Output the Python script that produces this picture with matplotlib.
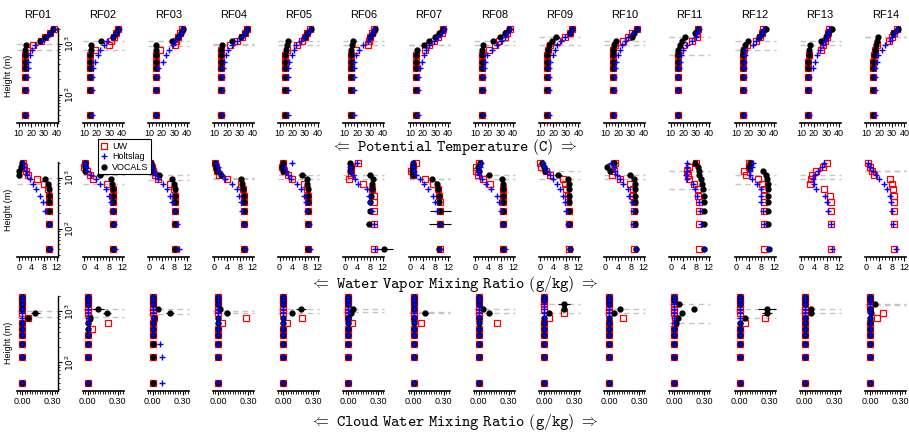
import matplotlib.pyplot as plt
import matplotlib.ticker as mticker
from matplotlib.lines import Line2D
import numpy as np

plt.rcParams['font.family'] = ['Liberation Sans', 'DejaVu Sans']

flights = ['RF01', 'RF02', 'RF03', 'RF04', 'RF05', 'RF06', 'RF07',
           'RF08', 'RF09', 'RF10', 'RF11', 'RF12', 'RF13', 'RF14']

# model / obs levels (m)
heights = [40, 125, 225, 340, 450, 600, 750, 930, 1130, 1370, 1640, 1950]

# inversion top / base per flight (dashed lines)
inv_top = [1000, 1130, 1130, 1000, 1130, 1130, 960, 1130, 1370, 1130, 1370, 1130, 1130, 1370]
inv_base = [760, 760, 900, 930, 930, 960, 930, 930, 930, 930, 600, 750, 930, 1350]

# ---- potential temperature (C)
th_uw = [
    [15.0, 15.0, 15.0, 15.0, 15.0, 15.0, 16.5, 21.5, 27.5, 31.0, 35.0, 37.5],
    [15.0, 15.0, 15.0, 15.0, 15.0, 15.0, 18.5, 29.5, 31.5, 33.5, 35.0, 36.5],
    [15.0, 15.0, 15.0, 15.0, 15.0, 15.0, 18.5, 30.0, 31.5, 33.0, 34.5, 36.0],
    [15.0, 15.0, 15.0, 15.0, 15.0, 15.0, 15.5, 22.0, 28.0, 31.5, 34.0, 36.0],
    [14.5, 14.5, 14.5, 14.5, 14.5, 14.5, 15.5, 23.5, 27.5, 30.0, 32.0, 34.0],
    [14.8, 14.8, 14.8, 14.8, 14.8, 14.8, 18.8, 28.0, 29.0, 30.0, 31.2, 33.0],
    [14.7, 14.7, 14.7, 14.7, 14.7, 14.7, 21.8, 25.2, 28.9, 32.3, 35.0, 36.3],
    [15.5, 15.5, 15.5, 15.5, 15.5, 15.5, 20.9, 25.6, 29.0, 33.5, 35.5, 37.5],
    [15.5, 15.5, 15.5, 15.5, 15.5, 15.5, 16.0, 17.5, 23.3, 29.4, 33.3, 34.6],
    [15.6, 15.6, 15.6, 15.6, 15.6, 15.6, 16.0, 17.5, 23.5, 28.0, 30.6, 34.5],
    [15.4, 15.4, 15.4, 15.4, 15.4, 16.0, 17.0, 19.3, 26.4, 30.4, 31.0, 31.7],
    [15.2, 15.2, 15.2, 15.2, 15.2, 15.5, 16.0, 19.0, 25.8, 29.0, 30.5, 31.6],
    [15.1, 15.1, 15.1, 15.1, 15.5, 16.0, 25.4, 27.5, 28.8, 30.1, 31.4, 32.2],
    [15.5, 15.5, 15.5, 15.5, 15.5, 16.0, 16.5, 18.0, 28.0, 30.0, 31.8, 34.4],
]
th_hs = [
    [16.0, 16.0, 16.5, 17.0, 17.5, 19.0, 20.5, 23.0, 28.0, 32.0, 35.0, 38.0],
    [16.0, 16.0, 16.0, 17.0, 18.5, 21.0, 23.0, 26.0, 28.5, 33.0, 35.0, 37.5],
    [15.5, 15.5, 16.0, 17.0, 21.0, 23.0, 26.0, 28.5, 30.0, 33.0, 35.0, 36.5],
    [16.0, 16.0, 16.0, 16.5, 17.5, 19.0, 21.0, 24.0, 28.0, 31.5, 34.0, 36.0],
    [16.4, 16.4, 16.4, 16.4, 17.7, 19.8, 21.0, 23.0, 27.0, 29.6, 32.7, 34.0],
    [17.0, 17.0, 17.0, 17.0, 17.5, 18.5, 21.4, 24.6, 28.0, 30.0, 31.5, 33.0],
    [16.0, 16.0, 16.5, 17.5, 19.2, 21.0, 23.0, 25.2, 29.0, 32.5, 35.0, 36.5],
    [16.5, 16.5, 16.5, 17.0, 17.7, 19.5, 23.0, 27.0, 30.0, 33.5, 35.5, 37.5],
    [16.5, 16.5, 16.5, 17.0, 17.6, 20.2, 21.5, 22.8, 26.0, 29.4, 33.0, 34.6],
    [16.5, 16.5, 16.5, 17.5, 18.5, 20.0, 21.5, 22.6, 25.5, 28.0, 31.5, 34.5],
    [16.0, 16.0, 16.0, 16.5, 17.0, 18.0, 19.8, 23.0, 26.5, 30.0, 31.0, 32.0],
    [16.0, 16.0, 16.0, 16.0, 16.5, 17.0, 17.1, 23.7, 26.0, 29.0, 30.5, 31.6],
    [16.0, 16.0, 16.5, 19.5, 20.9, 22.7, 25.0, 27.0, 28.8, 30.1, 31.4, 32.2],
    [16.5, 16.5, 16.5, 17.0, 18.0, 19.4, 22.0, 24.6, 28.6, 30.5, 32.5, 34.4],
]
th_vc = [
    [15.0, 15.0, 15.0, 15.0, 15.0, 15.0, 15.2, 16.0, 27.0, 31.0, 34.5, 37.0],
    [15.0, 15.0, 15.0, 15.0, 15.0, 15.0, 15.2, 15.5, 23.5, 33.0, 35.0, 36.5],
    [15.0, 15.0, 15.0, 15.0, 15.0, 15.0, 15.2, 15.5, 28.0, 32.5, 35.0, 36.5],
    [15.0, 15.0, 15.0, 15.0, 15.0, 15.0, 15.2, 16.0, 24.0, 31.0, 34.0, 36.0],
    [14.5, 14.5, 14.5, 14.5, 14.5, 14.5, 15.0, 15.5, 17.0, 30.0, 32.0, 34.5],
    [14.8, 14.8, 14.8, 14.8, 14.8, 15.0, 15.2, 15.5, 16.7, 30.0, 32.0, 34.0],
    [14.7, 14.7, 14.7, 14.7, 14.7, 15.0, 15.2, 21.0, 25.3, 29.5, 33.0, 36.0],
    [15.5, 15.5, 15.5, 15.5, 15.5, 15.5, 15.6, 16.0, 24.3, 29.6, 33.5, 36.5],
    [15.5, 15.5, 15.5, 15.5, 15.5, 15.5, 15.8, 16.5, 19.5, 22.3, 33.0, 35.0],
    [15.6, 15.6, 15.6, 15.6, 15.6, 15.6, 15.8, 16.5, 18.2, 30.6, 32.5, 35.0],
    [15.4, 15.4, 15.4, 15.4, 15.4, 15.6, 16.0, 17.5, 19.0, 21.2, 29.5, 31.7],
    [15.2, 15.2, 15.2, 15.2, 15.2, 15.3, 15.5, 17.1, 19.7, 28.0, 30.2, 34.0],
    [15.1, 15.1, 15.1, 15.1, 15.5, 16.0, 16.5, 17.0, 25.4, 29.5, 31.4, 34.5],
    [15.5, 15.5, 15.5, 15.5, 15.5, 16.0, 17.0, 17.5, 18.1, 19.4, 31.0, 34.8],
]

# ---- water vapor mixing ratio (g/kg)
qv_uw = [
    [9.6, 9.4, 9.4, 9.4, 9.4, 9.2, 8.1, 5.8, 3.0, 2.2, 1.6, 1.2],
    [9.3, 9.1, 9.1, 9.1, 9.1, 9.1, 7.4, 2.7, 1.9, 1.1, 0.0, 0.3],
    [8.3, 8.3, 8.3, 8.2, 8.2, 7.8, 6.7, 2.8, 1.9, 1.2, 0.8, 0.4],
    [9.2, 9.2, 9.2, 9.2, 9.2, 9.0, 8.5, 4.0, 1.5, 0.8, 0.5, 0.3],
    [9.0, 9.0, 9.0, 9.0, 9.0, 8.8, 7.7, 4.0, 2.6, 1.3, 0.8, 1.1],
    [9.1, 9.1, 9.1, 9.1, 9.1, 8.6, 5.9, 1.4, 2.1, 2.0, 1.9, 4.3],
    [9.4, 9.4, 9.4, 9.4, 9.2, 8.9, 7.3, 4.6, 0.9, 0.3, 0.9, 1.9],
    [8.8, 8.8, 8.8, 8.8, 8.8, 8.8, 4.7, 2.5, 1.0, 0.3, 0.2, 1.3],
    [9.0, 9.0, 9.0, 8.7, 8.7, 8.2, 7.7, 7.1, 3.1, 1.8, 0.2, 0.0],
    [9.0, 9.0, 9.0, 8.9, 8.7, 8.5, 7.7, 4.6, 2.0, 2.6, 1.5, 3.1],
    [8.8, 8.8, 8.8, 8.8, 8.6, 8.5, 7.4, 5.9, 5.4, 5.1, 5.7, 8.0],
    [9.0, 9.0, 9.0, 9.0, 9.0, 8.8, 8.3, 6.8, 3.2, 2.5, 4.0, 4.0],
    [9.3, 9.3, 9.3, 9.3, 9.0, 7.3, 2.8, 3.0, 3.3, 4.8, 7.0, 8.0],
    [8.8, 8.8, 8.8, 8.8, 8.6, 8.5, 8.2, 7.5, 2.5, 1.8, 1.0, 0.5],
]
qv_hs = [
    [9.9, 9.6, 8.3, 7.8, 6.7, 5.4, 4.6, 3.5, 2.7, 2.3, 1.6, 1.2],
    [9.8, 9.4, 9.0, 8.5, 7.8, 6.8, 5.1, 3.8, 2.2, 1.1, 0.6, 0.3],
    [9.4, 8.8, 8.0, 7.2, 6.7, 5.5, 4.2, 2.9, 1.9, 1.4, 1.0, 0.6],
    [9.6, 9.3, 8.8, 8.3, 7.8, 7.0, 5.5, 3.5, 2.3, 1.5, 1.0, 0.6],
    [9.6, 9.3, 8.6, 8.2, 7.6, 6.9, 5.4, 3.6, 2.7, 2.1, 1.5, 4.0],
    [9.6, 9.1, 8.5, 8.0, 7.5, 6.9, 4.3, 3.2, 2.5, 1.8, 1.6, 4.0],
    [9.6, 9.4, 8.4, 7.8, 7.3, 5.7, 4.3, 3.0, 1.9, 1.4, 1.1, 0.9],
    [9.4, 8.9, 8.1, 7.6, 6.9, 5.0, 3.5, 2.0, 1.3, 1.0, 1.5, 1.7],
    [9.2, 8.7, 8.2, 7.7, 7.1, 6.1, 5.1, 4.1, 2.9, 2.0, 1.2, 0.8],
    [9.5, 8.7, 8.5, 8.2, 7.5, 7.1, 5.6, 4.6, 3.6, 3.1, 2.6, 1.7],
    [10.5, 9.6, 9.2, 8.8, 8.2, 7.5, 6.9, 5.1, 4.9, 5.0, 5.1, 5.1],
    [10.0, 9.0, 8.5, 8.0, 7.8, 7.8, 6.5, 5.0, 4.5, 4.3, 5.0, 5.5],
    [9.8, 9.3, 8.6, 8.3, 7.6, 4.8, 4.0, 3.6, 4.3, 5.3, 6.6, 7.3],
    [9.2, 8.5, 8.0, 7.8, 7.5, 6.5, 5.5, 4.0, 3.0, 2.0, 1.0, 0.5],
]
qv_vc = [
    [9.6, 9.6, 9.6, 9.6, 9.6, 9.6, 9.3, 8.3, 0.2, 0.1, 0.8, 1.1],
    [9.3, 9.2, 9.2, 9.2, 9.2, 9.2, 8.8, 8.6, 5.1, 0.3, 0.3, 0.3],
    [8.3, 8.3, 8.3, 8.3, 8.3, 8.3, 7.8, 7.2, 3.0, 1.0, 0.8, 0.5],
    [9.2, 9.2, 9.2, 9.2, 9.2, 9.1, 8.8, 8.5, 2.0, 0.8, 0.5, 0.3],
    [9.0, 9.0, 9.0, 9.0, 9.0, 9.0, 8.8, 8.6, 7.2, 1.0, 0.8, 1.2],
    [12.3, 7.8, 8.0, 8.0, 8.4, 8.6, 8.6, 8.9, 8.0, 1.6, 1.8, 1.6],
    [9.2, 9.4, 9.6, 9.2, 9.2, 8.8, 8.6, 7.1, 1.0, 0.5, 0.8, 1.1],
    [8.9, 8.9, 8.8, 8.8, 8.8, 8.8, 8.7, 8.6, 4.3, 1.3, 1.0, 1.5],
    [9.2, 9.1, 9.1, 9.1, 9.0, 9.0, 8.9, 8.6, 5.6, 1.5, 1.0, 0.5],
    [9.7, 9.3, 9.3, 9.3, 9.2, 9.2, 9.2, 9.0, 7.7, 1.3, 0.5, 2.6],
    [10.5, 10.5, 10.5, 10.5, 10.5, 10.2, 10.0, 9.5, 9.0, 8.8, 8.5, 7.8],
    [10.3, 10.0, 10.0, 10.0, 10.0, 10.0, 10.0, 9.8, 9.6, 8.5, 4.0, 4.5],
    [None] * 12,
    [None] * 12,
]

# ---- cloud water mixing ratio (g/kg)
ql_uw = [
    [0, 0, 0, 0, 0, 0, 0.06, 0, 0, 0, 0, 0],
    [0, 0, 0, 0, 0.04, 0.20, 0.01, 0, 0, 0, 0, 0],
    [0, 0, 0, 0, 0, 0, 0.01, 0, 0, 0, 0, 0],
    [0, 0, 0, 0, 0, 0.04, 0.28, 0, 0, 0, 0, 0],
    [0, 0, 0, 0, 0, 0.04, 0.19, 0, 0, 0, 0, 0],
    [0, 0, 0, 0, 0, 0.04, 0, 0, 0, 0, 0, 0],
    [0, 0, 0, 0, 0, 0.07, 0, 0, 0, 0, 0, 0],
    [0, 0, 0, 0, 0, 0.18, 0, 0, 0, 0, 0, 0],
    [0, 0, 0, 0, 0, 0, 0.05, 0.20, 0, 0, 0, 0],
    [0, 0, 0, 0, 0, 0, 0.14, 0, 0, 0, 0, 0],
    [0, 0, 0, 0, 0, 0.01, 0.01, 0, 0, 0, 0, 0],
    [0, 0, 0, 0, 0, 0.05, 0.25, 0, 0, 0, 0, 0],
    [0, 0, 0, 0, 0, 0, 0, 0, 0, 0, 0, 0],
    [0, 0, 0, 0, 0, 0, 0.07, 0.13, 0, 0, 0, 0],
]
ql_hs = [
    [0, 0, 0, 0, 0, 0, 0, 0, 0, 0, 0, 0],
    [0, 0, 0, 0, 0, 0, 0, 0, 0, 0, 0, 0],
    [0.094, 0.09, 0.076, 0, 0, 0, 0, 0, 0, 0, 0, 0],
    [0, 0, 0, 0, 0, 0, 0, 0, 0, 0, 0, 0],
    [0, 0, 0, 0, 0, 0, 0, 0, 0, 0, 0, 0],
    [0, 0, 0, 0, 0, 0, 0, 0, 0, 0, 0, 0],
    [0, 0, 0, 0, 0, 0, 0, 0, 0, 0, 0, 0],
    [0, 0, 0, 0, 0, 0, 0, 0, 0, 0, 0, 0],
    [0, 0, 0, 0, 0, 0, 0, 0, 0, 0, 0, 0],
    [0, 0, 0, 0, 0, 0, 0, 0, 0, 0, 0, 0],
    [0, 0, 0, 0, 0, 0, 0, 0, 0, 0, 0, 0],
    [0, 0, 0, 0, 0, 0, 0, 0, 0, 0, 0, 0],
    [0, 0, 0, 0, 0, 0, 0, 0, 0, 0, 0, 0],
    [0, 0, 0, 0, 0, 0, 0, 0, 0, 0, 0, 0],
]
ql_vc = [
    [0, 0, 0, 0, 0, 0, 0.06, 0.13, 0, 0, 0, 0],
    [0, 0, 0, 0, 0, 0, 0.02, 0.19, 0.10, 0, 0, 0],
    [0, 0, 0, 0, 0, 0, 0.01, 0.17, 0.05, 0, 0, 0],
    [0, 0, 0, 0, 0, 0, 0, 0.09, 0.02, 0, 0, 0],
    [0, 0, 0, 0, 0, 0, 0, 0.09, 0.18, 0, 0, 0],
    [0, 0, 0, 0, 0, 0, 0, 0.03, 0.05, 0, 0, 0],
    [0, 0, 0, 0, 0, 0, 0, 0.11, 0, 0, 0, 0],
    [0, 0, 0, 0, 0, 0, 0, 0.10, 0.04, 0, 0, 0],
    [0, 0, 0, 0, 0, 0, 0, 0.05, 0.20, 0.20, 0, 0],
    [0, 0, 0, 0, 0, 0, 0, 0.05, 0.11, 0, 0, 0],
    [0, 0, 0, 0, 0, 0.02, 0.04, 0.08, 0.20, 0.05, 0, 0],
    [0, 0, 0, 0, 0, 0, 0.05, 0.27, 0.27, 0, 0, 0],
    [0, 0, 0, 0, 0, 0, 0, 0.06, 0.06, 0, 0, 0],
    [0, 0, 0, 0, 0, 0, 0, 0.01, 0, 0.05, 0, 0],
]

# VOCALS spread (flight, level, half-width) where it is visible
th_vc_err = [(0, 7, 1.0), (1, 8, 2.0), (2, 8, 1.5), (3, 8, 1.5), (4, 8, 1.0), (5, 8, 1.0),
             (6, 7, 1.0), (7, 8, 2.0), (8, 9, 2.0), (9, 8, 1.0), (10, 9, 1.5), (11, 8, 1.0),
             (12, 8, 1.0), (13, 9, 1.0)]
qv_vc_err = [(0, 7, 0.6), (1, 8, 1.0), (2, 8, 1.0), (4, 8, 1.0), (5, 0, 2.9), (5, 1, 1.0),
             (5, 8, 1.0), (6, 1, 3.5), (6, 2, 3.2), (7, 8, 1.0), (8, 8, 1.2), (9, 8, 0.8)]
ql_vc_err = [(0, 7, 0.045), (1, 8, 0.06), (1, 7, 0.04), (2, 7, 0.04), (3, 7, 0.03), (4, 8, 0.05),
             (4, 7, 0.02), (6, 7, 0.03), (7, 7, 0.03), (8, 9, 0.06), (8, 8, 0.03), (9, 8, 0.02),
             (10, 9, 0.03), (10, 8, 0.02), (11, 8, 0.09), (11, 7, 0.05), (12, 8, 0.02), (13, 9, 0.02)]

rows = [
    dict(uw=th_uw, hs=th_hs, vc=th_vc, err=th_vc_err, xlim=(8.8, 41.2), major=[10, 20, 30, 40],
         minor=2.5, fmt='{:.0f}',
         title=r'$\Leftarrow\ \mathtt{Potential\ Temperature\ (C)}\ \Rightarrow$'),
    dict(uw=qv_uw, hs=qv_hs, vc=qv_vc, err=qv_vc_err, xlim=(-0.48, 12.48), major=[0, 4, 8, 12],
         minor=1.0, fmt='{:.0f}',
         title=r'$\Leftarrow\ \mathtt{Water\ Vapor\ Mixing\ Ratio\ (g/kg)}\ \Rightarrow$'),
    dict(uw=ql_uw, hs=ql_hs, vc=ql_vc, err=ql_vc_err, xlim=(-0.05, 0.36), major=[0.0, 0.3],
         minor=0.025, fmt='{:.2f}',
         title=r'$\Leftarrow\ \mathtt{Cloud\ Water\ Mixing\ Ratio\ (g/kg)}\ \Rightarrow$'),
]

W, H = 909, 432
fig = plt.figure(figsize=(W / 100, H / 100), dpi=100)
row_bottom = [123, 257, 390.5]
title_y = [147, 284, 422]
ax_w, ax_h = 41, 95

for r, spec in enumerate(rows):
    for i, name in enumerate(flights):
        left = 17.3 + 65.2 * i
        ax = fig.add_axes([left / W, 1 - row_bottom[r] / H, ax_w / W, ax_h / H])
        ax.set_yscale('log')
        ax.set_ylim(28, 2050)
        ax.set_xlim(*spec['xlim'])
        for s in ['top', 'left', 'right']:
            ax.spines[s].set_visible(False)
        ax.spines['bottom'].set_linewidth(1.2)
        ax.patch.set_alpha(0)

        for h in (inv_top[i], inv_base[i]):
            ax.axhline(h, color='#c4c4c4', ls=(0, (4, 3)), lw=1.0, zorder=0, clip_on=False)

        uw = np.array(spec['uw'][i], dtype=float)
        hs = np.array(spec['hs'][i], dtype=float)
        vc = np.array(spec['vc'][i], dtype=float)
        err = np.zeros(len(heights))
        for f, k, e in spec['err']:
            if f == i:
                err[k] = e

        ax.plot(uw, heights, 's', mfc='none', mec='red', ms=4, mew=0.9, zorder=2, clip_on=False)
        ax.errorbar(vc, heights, xerr=err, fmt='o', color='black', ms=3.5, elinewidth=0.8,
                    capsize=0, zorder=3, clip_on=False)
        ax.plot(hs, heights, '+', color='blue', ms=4.5, mew=1.0, zorder=4, clip_on=False)

        ax.set_xticks(spec['major'])
        ax.set_xticklabels([spec['fmt'].format(v) for v in spec['major']])
        ax.xaxis.set_minor_locator(mticker.MultipleLocator(spec['minor']))
        ax.tick_params(axis='x', which='major', length=3, width=0.8, labelsize=6.5, pad=1.5)
        ax.tick_params(axis='x', which='minor', length=1.8, width=0.6)

        if i == 0:
            ax.spines['right'].set_visible(True)
            ax.spines['right'].set_linewidth(1.0)
            ax.yaxis.tick_right()
            ax.set_yticks([100, 1000])
            ax.set_yticklabels(['$10^2$', '$10^3$'])
            ax.yaxis.set_minor_locator(mticker.LogLocator(subs=np.arange(2, 10)))
            ax.yaxis.set_minor_formatter(mticker.NullFormatter())
            ax.tick_params(axis='y', which='major', length=3, labelsize=6.5, labelrotation=90, pad=1)
            ax.tick_params(axis='y', which='minor', length=1.5)
            for lab in ax.get_yticklabels():
                lab.set_va('center')
            ax.yaxis.set_label_position('left')
            ax.set_ylabel('Height (m)', fontsize=6.5)
            ax.yaxis.set_label_coords(-0.1, 0.5)
        else:
            ax.set_yticks([])
            ax.yaxis.set_minor_locator(mticker.NullLocator())

        if r == 0:
            ax.set_title(name, fontsize=8, pad=7)

    fig.text(0.5, 1 - title_y[r] / H, spec['title'], ha='center', va='center',
             math_fontfamily='cm', fontsize=11.4)

handles = [
    Line2D([], [], ls='none', marker='s', mfc='none', mec='red', ms=4, mew=0.9),
    Line2D([], [], ls='none', marker='+', color='blue', ms=4.5, mew=1.0),
    Line2D([], [], ls='none', marker='o', color='black', ms=3.5),
]
leg = fig.legend(handles, ['UW', 'Holtslag', 'VOCALS'], loc='upper left',
                 bbox_to_anchor=(97.7 / W, 1 - 139.3 / H), fontsize=6.5, frameon=True,
                 fancybox=False, edgecolor='black', framealpha=1, borderpad=0.3,
                 handlelength=0.8, handletextpad=0.5, labelspacing=0.15, borderaxespad=0)
leg.get_frame().set_linewidth(0.8)

fig.savefig('out.png', dpi=100)
